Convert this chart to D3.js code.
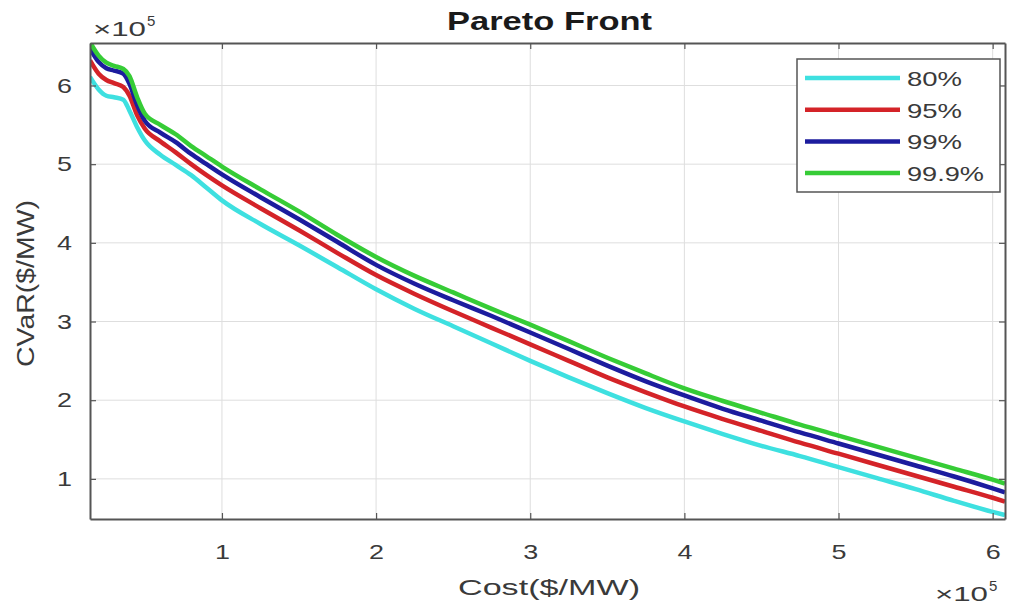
<!DOCTYPE html>
<html>
<head>
<meta charset="utf-8">
<script src="https://cdn.jsdelivr.net/npm/d3@7"></script>
<style>
  body { margin: 0; background: #fff; }
  text { font-family: "Liberation Sans", Arial, sans-serif; }
</style>
</head>
<body>
<div id="chart"></div>
<script>
// cost values (x 10^5 $/MW)
const cost = [0.144, 0.2, 0.25, 0.3, 0.36, 0.4, 0.45, 0.5, 0.6, 0.7, 0.8, 0.9, 1.0,
  1.25, 1.5, 1.75, 2.0, 2.25, 2.5, 2.75, 3.0, 3.25, 3.5, 3.75, 4.0, 4.25, 4.5, 4.75,
  5.0, 5.25, 5.5, 5.75, 6.0, 6.08];

// CVaR values (x 10^5 $/MW) per confidence level
const cvar80 = [6.11, 5.95, 5.87, 5.85, 5.82, 5.68, 5.47, 5.30, 5.12, 4.99, 4.86, 4.70, 4.54,
  4.24, 3.97, 3.69, 3.41, 3.16, 2.94, 2.72, 2.50, 2.29, 2.09, 1.90, 1.73, 1.57, 1.42, 1.29,
  1.15, 1.01, 0.87, 0.72, 0.58, 0.54];
const cvar95 = [6.32, 6.15, 6.07, 6.03, 5.98, 5.87, 5.62, 5.45, 5.29, 5.15, 5.00, 4.86, 4.73,
  4.44, 4.16, 3.87, 3.59, 3.35, 3.13, 2.92, 2.71, 2.50, 2.29, 2.10, 1.92, 1.76, 1.61, 1.46,
  1.32, 1.18, 1.04, 0.90, 0.76, 0.71];
const cvar99 = [6.47, 6.30, 6.22, 6.19, 6.15, 6.02, 5.75, 5.55, 5.40, 5.28, 5.13, 5.00, 4.87,
  4.58, 4.30, 4.01, 3.72, 3.48, 3.27, 3.07, 2.86, 2.65, 2.44, 2.24, 2.06, 1.89, 1.74, 1.59,
  1.45, 1.31, 1.17, 1.03, 0.88, 0.83];
const cvar999 = [6.55, 6.38, 6.29, 6.25, 6.21, 6.12, 5.85, 5.64, 5.50, 5.38, 5.23, 5.10, 4.97,
  4.68, 4.40, 4.10, 3.82, 3.58, 3.37, 3.16, 2.96, 2.75, 2.54, 2.34, 2.15, 1.99, 1.84, 1.69,
  1.55, 1.41, 1.27, 1.13, 0.99, 0.94];

const seriesNames = ["80%", "95%", "99%", "99.9%"];
const seriesColors = ["#3ee0e0", "#d42328", "#1c1c9e", "#36cc36"];
const xTicks = [1, 2, 3, 4, 5, 6];
const yTicks = [1, 2, 3, 4, 5, 6];

const width = 1012, height = 608;
const mLeft = 90, mRight = 1005, mTop = 43, mBottom = 519;

const svg = d3.select("#chart").append("svg")
  .attr("width", width)
  .attr("height", height);

const x = d3.scaleLinear().domain([0.144, 6.08]).range([mLeft, mRight]);
const y = d3.scaleLinear().domain([0.49, 6.54]).range([mBottom, mTop]);

// grid
svg.append("g").selectAll("line").data(xTicks).enter().append("line")
  .attr("x1", d => x(d)).attr("x2", d => x(d))
  .attr("y1", mTop).attr("y2", mBottom)
  .attr("stroke", "#dedede").attr("stroke-width", 1);
svg.append("g").selectAll("line").data(yTicks).enter().append("line")
  .attr("x1", mLeft).attr("x2", mRight)
  .attr("y1", d => y(d)).attr("y2", d => y(d))
  .attr("stroke", "#dedede").attr("stroke-width", 1);

// curves
svg.append("clipPath").attr("id", "clip")
  .append("rect").attr("x", mLeft).attr("y", mTop)
  .attr("width", mRight - mLeft).attr("height", mBottom - mTop);

const allSeries = [cvar80, cvar95, cvar99, cvar999];
const line = d3.line()
  .x((d, i) => x(cost[i]))
  .y(d => y(d))
  .curve(d3.curveMonotoneX);

svg.append("g").attr("clip-path", "url(#clip)")
  .selectAll("path").data(allSeries).enter().append("path")
  .attr("d", line)
  .attr("fill", "none")
  .attr("stroke", (d, i) => seriesColors[i])
  .attr("stroke-width", 4.5)
  .attr("stroke-linejoin", "round");

// axes with inward ticks
const fmt = d3.format("d");
const xAxisB = d3.axisBottom(x).tickValues(xTicks).tickFormat(fmt)
  .tickSizeInner(-6).tickSizeOuter(0).tickPadding(25);
const yAxisL = d3.axisLeft(y).tickValues(yTicks).tickFormat(fmt)
  .tickSizeInner(-6).tickSizeOuter(0).tickPadding(18);

const gx = svg.append("g").attr("transform", `translate(0,${mBottom})`).call(xAxisB);
const gy = svg.append("g").attr("transform", `translate(${mLeft},0)`).call(yAxisL);
const gxt = svg.append("g").attr("transform", `translate(0,${mTop})`)
  .call(d3.axisTop(x).tickValues(xTicks).tickSizeInner(-6).tickSizeOuter(0).tickFormat(""));
const gyr = svg.append("g").attr("transform", `translate(${mRight},0)`)
  .call(d3.axisRight(y).tickValues(yTicks).tickSizeInner(-6).tickSizeOuter(0).tickFormat(""));

[gx, gy, gxt, gyr].forEach(g => {
  g.select(".domain").attr("stroke", "#555").attr("stroke-width", 2);
  g.selectAll(".tick line").attr("stroke", "#555").attr("stroke-width", 1.2);
});
[gx, gy].forEach(g => {
  g.selectAll(".tick text")
    .attr("font-size", 21)
    .attr("fill", "#3a3a3a")
    .attr("font-family", "Liberation Sans, Arial, sans-serif")
    .attr("textLength", 15)
    .attr("lengthAdjust", "spacingAndGlyphs");
});

// title
svg.append("text")
  .attr("x", 447).attr("y", 30)
  .attr("font-size", 25).attr("font-weight", "bold")
  .attr("fill", "#1a1a1a")
  .attr("textLength", 205).attr("lengthAdjust", "spacingAndGlyphs")
  .text("Pareto Front");

// axis labels
svg.append("text")
  .attr("x", 458).attr("y", 595)
  .attr("font-size", 22).attr("fill", "#3a3a3a")
  .attr("textLength", 182).attr("lengthAdjust", "spacingAndGlyphs")
  .text("Cost($/MW)");

svg.append("text")
  .attr("transform", "translate(34,367) rotate(-90)")
  .attr("font-size", 23).attr("fill", "#3a3a3a")
  .attr("textLength", 167).attr("lengthAdjust", "spacingAndGlyphs")
  .text("CVaR($/MW)");

// exponent labels
function exponent(x0, yBase) {
  const t = svg.append("text").attr("x", x0).attr("y", yBase)
    .attr("font-size", 21).attr("fill", "#3a3a3a");
  t.append("tspan").attr("textLength", 53).attr("lengthAdjust", "spacingAndGlyphs").text("\u00d710");
  t.append("tspan").attr("dy", -10).attr("font-size", 15).attr("dx", 1).text("5");
}
exponent(93, 36);
exponent(935, 601);

// legend
const lg = svg.append("g");
lg.append("rect")
  .attr("x", 797).attr("y", 59).attr("width", 203).attr("height", 133)
  .attr("fill", "#fff").attr("stroke", "#555").attr("stroke-width", 1.5);
const rowY = d => 78 + d * 31.7;
lg.selectAll("line").data(seriesNames).enter().append("line")
  .attr("x1", 805).attr("x2", 900)
  .attr("y1", (d, i) => rowY(i)).attr("y2", (d, i) => rowY(i))
  .attr("stroke", (d, i) => seriesColors[i]).attr("stroke-width", 4.5);
lg.selectAll("text").data(seriesNames).enter().append("text")
  .attr("x", 907).attr("y", (d, i) => rowY(i) + 8)
  .attr("font-size", 21).attr("fill", "#3a3a3a")
  .attr("textLength", d => d.length > 3 ? 77 : 55)
  .attr("lengthAdjust", "spacingAndGlyphs")
  .text(d => d);
</script>
</body>
</html>
